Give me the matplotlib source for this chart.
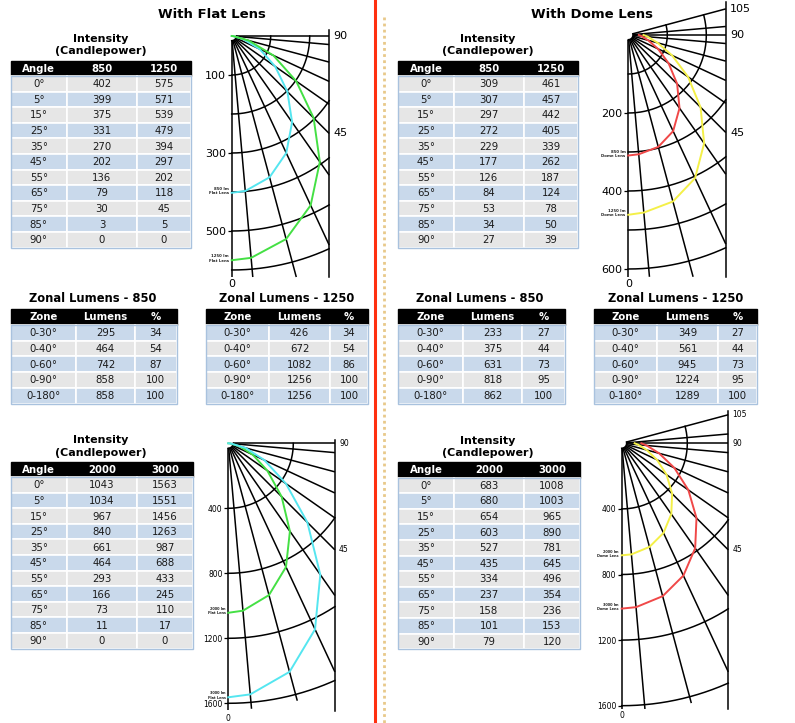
import numpy as np
import matplotlib.pyplot as plt
from matplotlib.patches import Rectangle

W, H = 795, 723

# ---- data ----
angles = [0, 5, 15, 25, 35, 45, 55, 65, 75, 85, 90]
angle_labels = [f"{a}°" for a in angles]

flat_850 = [402, 399, 375, 331, 270, 202, 136, 79, 30, 3, 0]
flat_1250 = [575, 571, 539, 479, 394, 297, 202, 118, 45, 5, 0]
dome_850 = [309, 307, 297, 272, 229, 177, 126, 84, 53, 34, 27]
dome_1250 = [461, 457, 442, 405, 339, 262, 187, 124, 78, 50, 39]
flat_2000 = [1043, 1034, 967, 840, 661, 464, 293, 166, 73, 11, 0]
flat_3000 = [1563, 1551, 1456, 1263, 987, 688, 433, 245, 110, 17, 0]
dome_2000 = [683, 680, 654, 603, 527, 435, 334, 237, 158, 101, 79]
dome_3000 = [1008, 1003, 965, 890, 781, 645, 496, 354, 236, 153, 120]

zones = ["0-30°", "0-40°", "0-60°", "0-90°", "0-180°"]
zl_flat_850 = [295, 464, 742, 858, 858]
zp_flat_850 = [34, 54, 87, 100, 100]
zl_flat_1250 = [426, 672, 1082, 1256, 1256]
zp_flat_1250 = [34, 54, 86, 100, 100]
zl_dome_850 = [233, 375, 631, 818, 862]
zp_dome_850 = [27, 44, 73, 95, 100]
zl_dome_1250 = [349, 561, 945, 1224, 1289]
zp_dome_1250 = [27, 44, 73, 95, 100]

fig = plt.figure(figsize=(W / 100, H / 100), dpi=100)
bg = fig.add_axes([0, 0, 1, 1])
bg.set_xlim(0, W)
bg.set_ylim(H, 0)
bg.axis("off")

GRAY = "#e6e6e6"
BLUE = "#c9d9eb"


def table(xe, ytop, header, cols, rh=15.6, hh=15.5, first_blue=False, fs=7.3):
    bg.add_patch(Rectangle((xe[0], ytop), xe[-1] - xe[0], hh, color="black"))
    for j, h in enumerate(header):
        bg.text((xe[j] + xe[j + 1]) / 2, ytop + hh / 2 + 0.5, h, color="white",
                fontweight="bold", ha="center", va="center", fontsize=fs)
    n = len(cols[0])
    for i in range(n):
        y = ytop + hh + i * rh
        c = BLUE if (i % 2 == 0) == first_blue else GRAY
        for j in range(len(cols)):
            bg.add_patch(Rectangle((xe[j], y), xe[j + 1] - xe[j], rh, facecolor=c,
                                   edgecolor="white", lw=1.2))
            bg.text((xe[j] + xe[j + 1]) / 2, y + rh / 2 + 0.5, str(cols[j][i]),
                    color="#1a1a1a", ha="center", va="center", fontsize=fs)
    bg.add_patch(Rectangle((xe[0], ytop + hh), xe[-1] - xe[0], n * rh, fill=False,
                           edgecolor="#a9c2de", lw=1.0))


def polar(ox, oy, s, xmax, ybot, ytop, spokes, rings, ticks, right_labels,
          series, r0, rspoke, fs_ax, fs_lab):
    top_px = oy - ytop * s
    bot_px = oy + ybot * s
    ax = fig.add_axes([ox / W, 1 - bot_px / H, xmax * s / W, (bot_px - top_px) / H])
    ax.set_xlim(0, xmax)
    ax.set_ylim(-ybot, ytop)
    ax.patch.set_alpha(0)
    for sp in ax.spines.values():
        sp.set_visible(False)
    for a in spokes:
        t = np.radians(a)
        sx, cy = np.sin(t), np.cos(t)
        r1 = rspoke
        if sx > 1e-9:
            r1 = min(r1, xmax / sx)
        if cy > 1e-9:
            r1 = min(r1, ybot / cy)
        if cy < -1e-9:
            r1 = min(r1, ytop / -cy)
        ax.plot([r0 * sx, r1 * sx], [-r0 * cy, -r1 * cy], color="black", lw=1.1,
                clip_on=False, solid_capstyle="butt")
    t = np.radians(np.linspace(0, max(spokes), 2000))
    for r in [r0] + rings:
        x, y = r * np.sin(t), -r * np.cos(t)
        m = (x <= xmax) & (y >= -ybot)
        ax.plot(x[m], y[m], color="black", lw=1.1, clip_on=False)
    ax.plot([xmax, xmax], [-ybot, ytop], color="black", lw=1.1, clip_on=False)

    th = np.radians(angles)
    for vals, color, lab in series:
        v = np.array(vals, dtype=float)
        ax.plot(v * np.sin(th), -v * np.cos(th), color=color, lw=1.4,
                clip_on=False, zorder=3)
        ax.annotate(lab, xy=(0, -vals[0]), xytext=(-2, -1.8), textcoords="offset points",
                    ha="right", va="bottom", fontsize=fs_lab, fontweight="bold",
                    color="#222222", linespacing=1.1)

    for lab, a in right_labels:
        ta = np.radians(a)
        ax.annotate(lab, xy=(xmax, -xmax * np.cos(ta) / np.sin(ta)), xytext=(3, 0),
                    textcoords="offset points", ha="left", va="center",
                    fontsize=fs_ax, annotation_clip=False)

    ax.set_yticks([-v for v in ticks])
    ax.set_yticklabels([str(v) for v in ticks])
    ax.set_xticks([0])
    ax.set_xticklabels(["0"])
    ax.tick_params(axis="y", length=3, width=0.9, pad=1, labelsize=fs_ax)
    ax.tick_params(axis="x", length=0, pad=1.5, labelsize=fs_ax)
    return ax


CYAN = "#55e6f0"
GREEN = "#44e044"
RED = "#f04848"
YELLOW = "#f4f048"
flat_spokes = angles
dome_spokes = angles + [95, 105]

# ---- titles and separator ----
bg.text(212, 15, "With Flat Lens", ha="center", va="center", fontsize=9.5, fontweight="bold")
bg.text(592, 15, "With Dome Lens", ha="center", va="center", fontsize=9.5, fontweight="bold")
bg.plot([374.5, 374.5], [0, H], color="#ff3010", lw=2.2)
bg.plot([384, 384], [17, H], color="#e8c98a", lw=2.0, ls=(0, (1, 1.2)))

# ---- tables ----
for cx, y0 in [(101, 39), (488, 39), (101, 440), (488, 441)]:
    bg.text(cx, y0, "Intensity", ha="center", va="center", fontsize=8, fontweight="bold")
    bg.text(cx, y0 + 12.5, "(Candlepower)", ha="center", va="center", fontsize=8, fontweight="bold")

table([10.7, 67, 137, 191], 60.5, ["Angle", "850", "1250"], [angle_labels, flat_850, flat_1250])
table([398, 454, 524, 578], 60.5, ["Angle", "850", "1250"], [angle_labels, dome_850, dome_1250])
table([10.7, 67, 137, 193], 461.5, ["Angle", "2000", "3000"], [angle_labels, flat_2000, flat_3000])
table([398, 454, 524, 580], 462, ["Angle", "2000", "3000"], [angle_labels, dome_2000, dome_3000])

for cx, title in [(93, "Zonal Lumens - 850"), (287, "Zonal Lumens - 1250"),
                  (480, "Zonal Lumens - 850"), (676, "Zonal Lumens - 1250")]:
    bg.text(cx, 298, title, ha="center", va="center", fontsize=8.3, fontweight="bold")
zh = ["Zone", "Lumens", "%"]
table([10.7, 76, 135, 176.7], 308.5, zh, [zones, zl_flat_850, zp_flat_850], rh=15.7, hh=16.5, first_blue=True)
table([206, 269, 330, 368], 308.5, zh, [zones, zl_flat_1250, zp_flat_1250], rh=15.7, hh=16.5, first_blue=True)
table([398, 463, 522, 565], 308.5, zh, [zones, zl_dome_850, zp_dome_850], rh=15.7, hh=16.5, first_blue=True)
table([594, 657, 718, 757], 308.5, zh, [zones, zl_dome_1250, zp_dome_1250], rh=15.7, hh=16.5, first_blue=True)

# ---- polar candlepower plots ----
polar(231.7, 36, 0.39, 250, 618, 15, flat_spokes, [100, 200, 300, 400, 500, 600],
      [100, 300, 500], [("90", 90), ("45", 45)],
      [(flat_850, CYAN, "850 lm\nFlat Lens"), (flat_1250, GREEN, "1250 lm\nFlat Lens")],
      12, 2000, 8, 2.8)
polar(628.3, 35, 0.39, 250, 620, 85, dome_spokes, [100, 200, 300, 400, 500, 600],
      [200, 400, 600], [("105", 105), ("90", 90), ("45", 45)],
      [(dome_850, RED, "850 lm\nDome Lens"), (dome_1250, YELLOW, "1250 lm\nDome Lens")],
      12, 2000, 8, 2.8)
polar(228.3, 443.3, 0.1625, 656, 1650, 20, flat_spokes, [400, 800, 1200, 1600],
      [400, 800, 1200, 1600], [("90", 90), ("45", 45)],
      [(flat_2000, GREEN, "2000 lm\nFlat Lens"), (flat_3000, CYAN, "3000 lm\nFlat Lens")],
      30, 1640, 5.5, 2.5)
polar(621.7, 443.3, 0.164, 650, 1620, 200, dome_spokes, [400, 800, 1200, 1600],
      [400, 800, 1200, 1600], [("105", 105), ("90", 90), ("45", 45)],
      [(dome_2000, YELLOW, "2000 lm\nDome Lens"), (dome_3000, RED, "3000 lm\nDome Lens")],
      30, 1640, 5.5, 2.5)

fig.savefig("out.png", dpi=100)
